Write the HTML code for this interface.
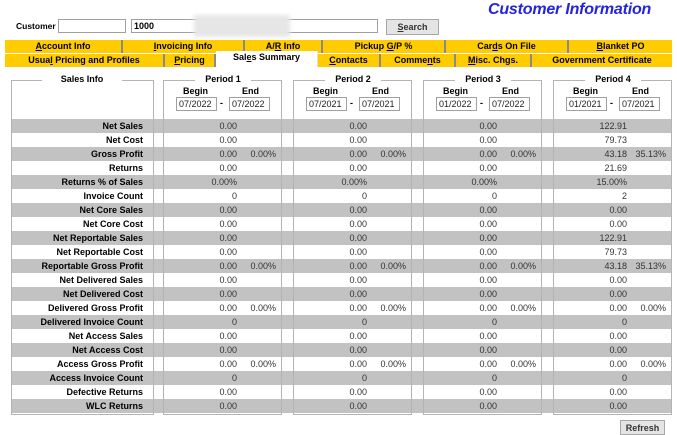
<!DOCTYPE html>
<html><head><meta charset="utf-8"><style>
*{box-sizing:border-box;margin:0;padding:0}
body{width:677px;height:434px;background:#fff;position:relative;overflow:hidden;font-family:"Liberation Sans",sans-serif;font-size:9px;color:#000}
.a{position:absolute}
.b{font-weight:bold}
.inp{position:absolute;border:1px solid #a0a0a0;background:#fff;font-size:9px;padding-left:2px;line-height:12px;color:#222}
.tab{position:absolute;background:#ffcc00;font-weight:bold;text-align:center;font-size:9px;line-height:12px;border-right:2px solid #8a8a8a}
.box{position:absolute;border:1px solid #b4b4b4;top:80px;height:335px}
.ttl{position:absolute;top:73px;background:#fff;font-weight:bold;text-align:center;padding:0 6px;line-height:12px}
.band{position:absolute;left:11px;width:661px;height:14px;background:#c2c2c2}
.lbl{position:absolute;width:133px;left:10px;text-align:right;font-weight:bold;line-height:14px}
.val{position:absolute;text-align:right;line-height:14px;color:#333}
.btn{position:absolute;background:#e4e4e4;border:1px solid #a8a8a8;font-weight:bold;text-align:center;color:#333}
</style></head><body>
<div class="a" style="left:488px;top:1px;font-size:16px;font-weight:bold;font-style:italic;color:#2424dc;letter-spacing:-0.2px">Customer Information</div>
<div class="a b" style="left:16px;top:21px;font-size:8.5px">Customer</div>
<div class="inp" style="left:58px;top:19px;width:68px;height:14px"></div>
<div class="inp b" style="left:131px;top:19px;width:247px;height:14px;color:#000">1000</div>
<div class="a" style="left:194px;top:15px;width:96px;height:22px;background:#e6e6e6;filter:blur(2px)"></div>
<div class="btn" style="left:386px;top:19px;width:53px;height:16px;line-height:14px"><u>S</u>earch</div>

<div class="tab" style="left:5px;top:40px;width:118px;height:13px"><u>A</u>ccount Info</div>
<div class="tab" style="left:123px;top:40px;width:122px;height:13px"><u>I</u>nvoicing Info</div>
<div class="tab" style="left:245px;top:40px;width:78px;height:13px">A/<u>R</u> Info</div>
<div class="tab" style="left:323px;top:40px;width:123px;height:13px">Pickup <u>G</u>/P %</div>
<div class="tab" style="left:446px;top:40px;width:123px;height:13px">Car<u>d</u>s On File</div>
<div class="tab" style="left:569px;top:40px;width:103px;height:13px;border-right:none"><u>B</u>lanket PO</div>
<div class="tab" style="left:5px;top:54px;width:160px;height:13px">Usua<u>l</u> Pricing and Profiles</div>
<div class="tab" style="left:165px;top:54px;width:51px;height:13px"><u>P</u>ricing</div>
<div class="tab" style="left:216px;top:51px;width:102px;height:16px;background:#fff;border-right:1px solid #ddd">Sal<u>e</u>s Summary</div>
<div class="tab" style="left:318px;top:54px;width:63px;height:13px"><u>C</u>ontacts</div>
<div class="tab" style="left:381px;top:54px;width:75px;height:13px">Comme<u>n</u>ts</div>
<div class="tab" style="left:456px;top:54px;width:76px;height:13px"><u>M</u>isc. Chgs.</div>
<div class="tab" style="left:532px;top:54px;width:140px;height:13px;border-right:none">Government Certificate</div>

<div id="bands"></div>
<div id="boxes"></div>
<div id="rows"></div>

<div class="btn" style="left:620px;top:420px;width:45px;height:15px;line-height:14px">Refresh</div>

<script>
const labels=["Net Sales","Net Cost","Gross Profit","Returns","Returns % of Sales","Invoice Count","Net Core Sales","Net Core Cost","Net Reportable Sales","Net Reportable Cost","Reportable Gross Profit","Net Delivered Sales","Net Delivered Cost","Delivered Gross Profit","Delivered Invoice Count","Net Access Sales","Net Access Cost","Access Gross Profit","Access Invoice Count","Defective Returns","WLC Returns"];
const period1=["0.00","0.00","0.00","0.00","0.00%","0","0.00","0.00","0.00","0.00","0.00","0.00","0.00","0.00","0","0.00","0.00","0.00","0","0.00","0.00"];
const period2=["0.00","0.00","0.00","0.00","0.00%","0","0.00","0.00","0.00","0.00","0.00","0.00","0.00","0.00","0","0.00","0.00","0.00","0","0.00","0.00"];
const period3=["0.00","0.00","0.00","0.00","0.00%","0","0.00","0.00","0.00","0.00","0.00","0.00","0.00","0.00","0","0.00","0.00","0.00","0","0.00","0.00"];
const period4=["122.91","79.73","43.18","21.69","15.00%","2","0.00","0.00","122.91","79.73","43.18","0.00","0.00","0.00","0","0.00","0.00","0.00","0","0.00","0.00"];
const pct1=["","","0.00%","","","","","","","","0.00%","","","0.00%","","","","0.00%","","",""];
const pct2=["","","0.00%","","","","","","","","0.00%","","","0.00%","","","","0.00%","","",""];
const pct3=["","","0.00%","","","","","","","","0.00%","","","0.00%","","","","0.00%","","",""];
const pct4=["","","35.13%","","","","","","","","35.13%","","","0.00%","","","","0.00%","","",""];
const periodNames=["Period 1","Period 2","Period 3","Period 4"];
const beginDates=["07/2022","07/2021","01/2022","01/2021"];
const endDates=["07/2022","07/2021","07/2022","07/2021"];

const values=[period1,period2,period3,period4], pcts=[pct1,pct2,pct3,pct4];
const boxLeft=[163,293,423,553], boxW=119, rowTop=119, rowH=14;
const bands=document.getElementById('bands'), boxes=document.getElementById('boxes'), rows=document.getElementById('rows');
function mk(parent,cls,style,text){const e=document.createElement('div');e.className=cls;e.style.cssText=style;if(text!==undefined)e.textContent=text;parent.appendChild(e);return e;}
labels.forEach((l,i)=>{
  if(i%2===0){const b=mk(bands,'band','top:'+(rowTop+i*rowH)+'px');
    
    }
});
let sb=mk(boxes,'box','left:11px;width:143px');


let st=mk(boxes,'ttl','left:42px;width:80px','Sales Info');


boxLeft.forEach((x,p)=>{
  const bx=mk(boxes,'box','left:'+x+'px;width:'+boxW+'px');
  
  
  const t=mk(boxes,'ttl','left:'+(x+32)+'px;width:56px',periodNames[p]);
  
  
  const bl=mk(boxes,'a b','left:'+(x+20)+'px;top:86px',"Begin");
  
  
  const el=mk(boxes,'a b','left:'+(x+79)+'px;top:86px',"End");
  
  
  const bi=mk(boxes,'inp','left:'+(x+13)+'px;top:97px;width:41px;height:14px',beginDates[p]);
  
  
  const d=mk(boxes,'a b','left:'+(x+57)+'px;top:98px','-');
  
  
  const ei=mk(boxes,'inp','left:'+(x+66)+'px;top:97px;width:41px;height:14px',endDates[p]);
  
  
});
labels.forEach((l,i)=>{
  const y=rowTop+i*rowH;
  const lb=mk(rows,'lbl','top:'+y+'px',l);
  
  
  boxLeft.forEach((x,p)=>{
    const v=mk(rows,'val','top:'+y+'px;left:'+x+'px;width:74px',values[p][i]);
    
    
    if(pcts[p][i]){const q=mk(rows,'val','top:'+y+'px;left:'+x+'px;width:113px',pcts[p][i]);
      
      }
  });
});
</script>
</body></html>
